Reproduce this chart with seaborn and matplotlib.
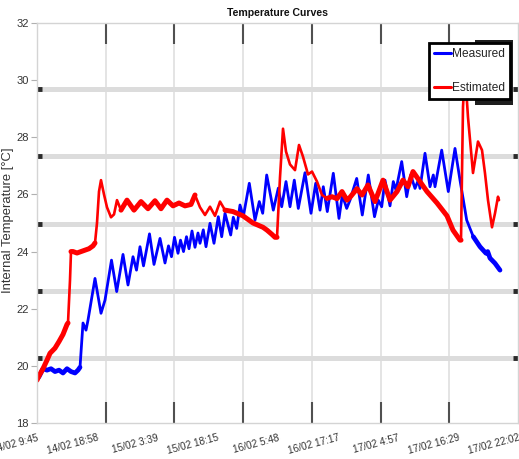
import numpy as np
import pandas as pd
import matplotlib
matplotlib.use("Agg")
import matplotlib.pyplot as plt
import seaborn as sns
from matplotlib.lines import Line2D
from matplotlib.patches import Rectangle

# Axis text
time_labels = ["14/02 9:45", "14/02 18:58", "15/02 3:39", "15/02 18:15",
               "16/02 5:48", "16/02 17:17", "17/02 4:57", "17/02 16:29",
               "17/02 22:02"]
y_ticks = [18, 20, 22, 24, 26, 28, 30, 32]
series_names = ["Measured", "Estimated"]

# Measured indoor temperature (sample step, degC)
measured_t = [0, 2, 6, 10, 14, 18, 22, 26, 30, 34, 38, 41, 43, 46, 49, 51, 58,
              64, 68, 74.5, 79.7, 86, 91, 96, 99.5, 103, 106.5, 112.5, 117, 123,
              128, 131.5, 134.5, 137.5, 141, 143.5, 146.5, 149.5, 152, 155, 158,
              161, 163, 166.3, 169, 173, 177, 181.3, 184.7, 188, 193.7, 196.3,
              199.7, 203, 206.3, 212.3, 218, 222.3, 225.7, 229.7, 236.3, 241.3,
              244.7, 249, 253, 257.3, 261.3, 268, 274, 278.7, 283, 286.3, 290.3,
              296.3, 302, 305.3, 309.7, 313, 319.7, 325.3, 331.3, 337.5, 341.3,
              344.7, 348, 353, 356.3, 359, 364.7, 369.7, 373.7, 378, 381.3, 383,
              388, 393, 396.3, 398, 404.7, 411.3, 418, 423, 429.7, 436.3, 443,
              449, 450.7, 453, 458, 463]
measured_temp = [19.55, 19.62, 19.9, 19.85, 19.9, 19.8, 19.85, 19.75, 19.9, 19.8,
                 19.75, 19.85, 19.95, 21.5, 21.25, 21.6, 23.06, 21.84, 22.3, 23.7,
                 22.6, 23.9, 22.83, 23.82, 23.35, 24.17, 23.5, 24.62, 23.55, 24.46,
                 23.6, 24.2, 23.82, 24.5, 23.94, 24.4, 24.0, 24.52, 24.1, 24.72,
                 24.15, 24.65, 24.29, 24.76, 24.17, 24.99, 24.29, 25.22, 24.52,
                 25.34, 24.58, 25.2, 24.81, 25.63, 25.22, 26.39, 25.1, 25.75, 25.34,
                 26.68, 25.45, 26.22, 25.57, 26.45, 25.57, 26.5, 25.51, 26.76,
                 25.34, 26.39, 25.45, 26.27, 25.4, 26.74, 25.16, 25.98, 25.51, 25.8,
                 26.56, 25.28, 26.68, 25.22, 25.8, 25.57, 26.5, 25.6, 26.45, 26.15,
                 27.15, 25.92, 26.68, 26.21, 26.5, 26.21, 27.44, 26.27, 26.68,
                 26.27, 27.55, 26.1, 27.61, 26.5, 25.1, 24.52, 24.17, 23.94, 24.0,
                 23.77, 23.59, 23.35]

# Estimated indoor temperature (sample step, degC)
estimated_t = [0, 2, 6, 10, 13, 18, 22, 26, 30, 31, 33, 34, 36, 40, 44, 48, 52,
               56, 58, 60, 62, 64, 67, 70, 74, 77, 80, 84, 90, 97, 104, 111, 118,
               124, 130, 136, 142, 148, 154, 158, 163, 168, 173, 178, 183, 188,
               196, 206, 216, 226, 230, 235, 238, 240, 243, 246, 249, 253, 258,
               262, 266, 271, 275, 280, 285, 290, 295, 300, 305, 310, 313, 320,
               325, 331, 338, 346, 353, 360, 366, 371, 376, 383, 390, 400, 410,
               416, 423, 424, 426, 428, 431, 436, 441, 445, 448, 451, 455, 458,
               461, 462]
estimated_temp = [19.5, 19.65, 19.9, 20.2, 20.44, 20.62, 20.85, 21.1, 21.45, 21.5,
                  23.0, 24.0, 24.0, 23.95, 24.0, 24.05, 24.1, 24.2, 24.3, 25.0,
                  26.1, 26.5, 26.0, 25.55, 25.2, 25.3, 25.8, 25.45, 25.8, 25.45,
                  25.75, 25.5, 25.78, 25.5, 25.8, 25.6, 25.7, 25.6, 25.65, 25.98,
                  25.55, 25.28, 25.57, 25.25, 25.75, 25.45, 25.4, 25.25, 25.0,
                  24.85, 24.75, 24.6, 24.5, 24.5, 26.6, 28.3, 27.5, 27.05, 26.85,
                  27.73, 27.32, 26.7, 26.8, 26.45, 25.98, 25.86, 25.92, 25.85, 26.1,
                  25.8, 25.9, 26.2, 25.98, 26.33, 25.75, 26.5, 25.8, 26.1, 26.5,
                  26.27, 26.8, 26.45, 26.1, 25.7, 25.25, 24.75, 24.4, 24.4, 29.07,
                  30.3, 28.7, 26.75, 27.85, 27.55, 26.74, 25.8, 24.85, 25.34,
                  25.92, 25.8]

# Noisy stretches of each log, drawn with a heavier stroke
measured_thick_spans = [(0, 43), (436, 463)]
estimated_thick_spans = [(0, 31), (34, 58), (84, 158), (188, 240), (290, 424)]

sns.set_style("white")
plt.rcParams["font.family"] = ["Liberation Sans", "DejaVu Sans"]

fig = plt.figure(figsize=(5.19, 4.59), dpi=100)
pos = [37 / 519, 36 / 459, 481 / 519, 400 / 459]

# Background reference grid with its own tick marks
bg = fig.add_axes(pos, zorder=0)
bg.set_xlim(0, 7)
bg.set_ylim(-0.967, 4.985)
bg.set_xticks(range(1, 7))
bg.set_yticks(range(0, 5))
bg.tick_params(axis="x", direction="in", length=15, width=1.5, color="#505050",
               top=True, bottom=True, labelbottom=False, labeltop=False)
bg.tick_params(axis="y", direction="in", length=3.5, width=3.5, color="#2a2a2a",
               left=True, right=True, labelleft=False, labelright=False)
bg.grid(axis="x", color="#e2e2e2", lw=1.3)
bg.grid(axis="y", color="#dcdcdc", lw=3.6)
for s in bg.spines.values():
    s.set_visible(False)

# Temperature axes on top
ax = fig.add_axes(pos, zorder=1)
ax.patch.set_alpha(0)

meas = pd.DataFrame({"t": measured_t, "temp": measured_temp})
est = pd.DataFrame({"t": estimated_t, "temp": estimated_temp})

sns.lineplot(data=meas, x="t", y="temp", color="#0000ff", lw=2.0,
             estimator=None, sort=False, ax=ax)
for a, b in measured_thick_spans:
    part = meas[(meas["t"] >= a) & (meas["t"] <= b)]
    sns.lineplot(data=part, x="t", y="temp", color="#0000ff", lw=3.4,
                 estimator=None, sort=False, ax=ax)

sns.lineplot(data=est, x="t", y="temp", color="#ff0000", lw=1.9,
             estimator=None, sort=False, ax=ax)
for a, b in estimated_thick_spans:
    part = est[(est["t"] >= a) & (est["t"] <= b)]
    sns.lineplot(data=part, x="t", y="temp", color="#ff0000", lw=3.6,
                 estimator=None, sort=False, ax=ax)

ax.set_xlim(0, 481)
ax.set_ylim(18, 32)
ax.set_xticks(np.linspace(0, 481, len(time_labels)))
ax.set_xticklabels(time_labels, rotation=15, ha="right", rotation_mode="anchor",
                   fontsize=7.2, color="#333333")
ax.set_yticks(y_ticks)
ax.set_yticklabels([str(v) for v in y_ticks], fontsize=8, color="#333333")
ax.tick_params(axis="x", length=0, pad=7)
ax.tick_params(axis="y", length=4, width=0.8, color="#b0b0b0", pad=2, left=True)
for s in ax.spines.values():
    s.set_color("#d4d4d4")
    s.set_linewidth(1.0)

ax.set_xlabel("")
ax.set_ylabel("Internal Temperature [°C]", fontsize=9.4, color="#333333")
ax.yaxis.set_label_coords(-0.047, 0.5075)
ax.set_title("Temperature Curves", fontsize=7.6, fontweight="bold", color="#111111", pad=5)

# Legend with a dark backing block
ax.add_patch(Rectangle((0.9106, 0.795), 0.079, 0.1625, transform=ax.transAxes,
                       facecolor="#1e1e1e", edgecolor="none", zorder=4.5,
                       clip_on=False))
handles = [Line2D([], [], color="#0000ff", lw=2.2), Line2D([], [], color="#ff0000", lw=2.2)]
leg = ax.legend(handles, series_names, loc="upper right", bbox_to_anchor=(0.9834, 0.95),
                frameon=True, fancybox=False, edgecolor="black", facecolor="white",
                framealpha=1, fontsize=8.6, handlelength=1.45, handletextpad=0.1,
                labelspacing=1.9, borderpad=0.4, borderaxespad=0)
leg.get_frame().set_linewidth(2.0)
leg.set_zorder(5)

fig.savefig("out.png", dpi=100)
